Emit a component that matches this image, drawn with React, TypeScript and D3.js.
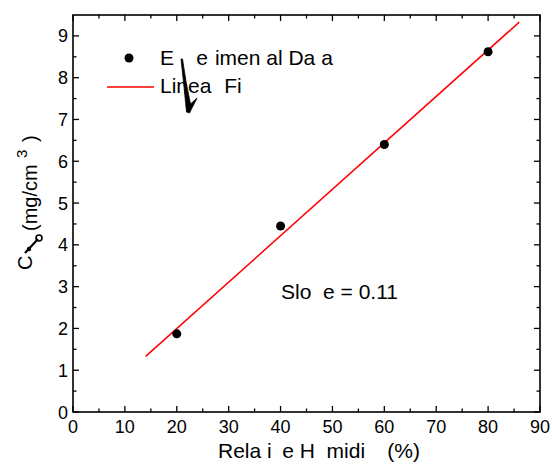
import React, { useEffect, useRef } from "react";
import * as d3 from "d3";

// measured points
const humidity = [20, 40, 60, 80];
const concentration = [1.87, 4.45, 6.4, 8.62];

// fitted line ends
const fitX = [14, 86];
const fitY = [1.33, 9.33];

const xTicks = [0, 10, 20, 30, 40, 50, 60, 70, 80, 90];
const yTicks = [0, 1, 2, 3, 4, 5, 6, 7, 8, 9];

// text pieces, odd entries are glyphs the original could not draw
const legendData = ["E", "xp", "e", "r", "imen", "t", "al Da", "t", "a"];
const legendFit = ["Linea", "r", " Fi", "t"];
const slopeText = ["Slo", "p", "e = 0.11"];
const xTitle = ["Rela", "t", "i", "v", "e H", "u", "midi", "ty", " (%)"];

const font = "'Liberation Sans', Arial, sans-serif";

const ghostText = (sel, parts) => {
  parts.forEach((p, i) => {
    sel.append("tspan").attr("fill-opacity", i % 2 ? 0 : 1).text(p);
  });
  return sel;
};

const App = () => {
  const ref = useRef<SVGSVGElement>(null);

  useEffect(() => {
    const svg = d3.select(ref.current);
    svg.selectAll("*").remove();

    const left = 73, right = 540, top = 15, bottom = 412;
    const x = d3.scaleLinear().domain([0, 90]).range([left, right]);
    const y = d3.scaleLinear().domain([0, 9.5]).range([bottom, top]);

    const g = svg.append("g");

    // ticks, all pointing inward
    const xMinor = d3.range(5, 90, 10);
    const yMinor = d3.range(0.5, 9.5, 1);
    const tick = (x1, y1, x2, y2) =>
      g.append("line").attr("x1", x1).attr("y1", y1).attr("x2", x2).attr("y2", y2)
        .attr("stroke", "#000").attr("stroke-width", 1.3);

    xTicks.forEach(v => { tick(x(v), bottom, x(v), bottom - 6); tick(x(v), top, x(v), top + 6); });
    xMinor.forEach(v => { tick(x(v), bottom, x(v), bottom - 3.5); tick(x(v), top, x(v), top + 3.5); });
    yTicks.forEach(v => { tick(left, y(v), left + 6, y(v)); tick(right, y(v), right - 6, y(v)); });
    yMinor.forEach(v => { tick(left, y(v), left + 3.5, y(v)); tick(right, y(v), right - 3.5, y(v)); });

    g.append("rect").attr("x", left).attr("y", top)
      .attr("width", right - left).attr("height", bottom - top)
      .attr("fill", "none").attr("stroke", "#000").attr("stroke-width", 1.6);

    g.selectAll(".xl").data(xTicks).enter().append("text")
      .attr("x", d => x(d)).attr("y", bottom + 21)
      .attr("text-anchor", "middle").attr("font-family", font).attr("font-size", 18)
      .text(d => d);

    g.selectAll(".yl").data(yTicks).enter().append("text")
      .attr("x", left - 5).attr("y", d => y(d) + 6.5)
      .attr("text-anchor", "end").attr("font-family", font).attr("font-size", 18)
      .text(d => d);

    // fit line
    const line = d3.line<number>().x((d, i) => x(fitX[i])).y(d => y(d));
    g.append("path").attr("d", line(fitY)).attr("fill", "none")
      .attr("stroke", "#ff0000").attr("stroke-width", 1.5);

    g.selectAll(".pt").data(humidity).enter().append("circle")
      .attr("cx", d => x(d)).attr("cy", (d, i) => y(concentration[i]))
      .attr("r", 4.5).attr("fill", "#000");

    // legend
    g.append("circle").attr("cx", 129).attr("cy", 58).attr("r", 4.5).attr("fill", "#000");
    ghostText(g.append("text").attr("x", 160).attr("y", 65)
      .attr("font-family", font).attr("font-size", 21), legendData);
    g.append("line").attr("x1", 107).attr("x2", 154).attr("y1", 87).attr("y2", 87)
      .attr("stroke", "#ff0000").attr("stroke-width", 1.5);
    ghostText(g.append("text").attr("x", 160).attr("y", 93)
      .attr("font-family", font).attr("font-size", 21), legendFit);
    // stray glyph stroke seen in the original legend
    g.append("path")
      .attr("d", "M181,59 L182.5,59 Q186,84 190.5,104 L197,98 L192,108 L189.5,113 L186.5,112 Q184,86 181,59 Z")
      .attr("fill", "#000").attr("stroke", "#000").attr("stroke-width", 0.8);

    ghostText(g.append("text").attr("x", 281).attr("y", 299)
      .attr("font-family", font).attr("font-size", 21), slopeText);

    ghostText(g.append("text").attr("x", 319).attr("y", 458).attr("text-anchor", "middle")
      .attr("font-family", font).attr("font-size", 21), xTitle);

    // y title, pieces placed along the rotated axis
    const yPart = (px, py, size, s) =>
      g.append("text").attr("transform", `translate(${px},${py}) rotate(-90)`)
        .attr("font-family", font).attr("font-size", size).text(s);
    yPart(32, 270, 20, "C");
    yPart(37, 231, 20, "(mg/cm");
    yPart(27, 158, 15, "3");
    yPart(37, 142, 20, ")");
    g.append("path").attr("d", "M25,253 L38,239").attr("stroke", "#000").attr("stroke-width", 2.2);
    g.append("circle").attr("cx", 39).attr("cy", 238).attr("r", 3).attr("fill", "none")
      .attr("stroke", "#000").attr("stroke-width", 1.6);
    g.append("circle").attr("cx", 29).attr("cy", 249).attr("r", 2.2).attr("fill", "#000");
  }, []);

  return (
    <svg ref={ref} width={552} height={464}
      style={{ position: "absolute", left: 0, top: 0, background: "#fff" }} />
  );
};

export default App;
